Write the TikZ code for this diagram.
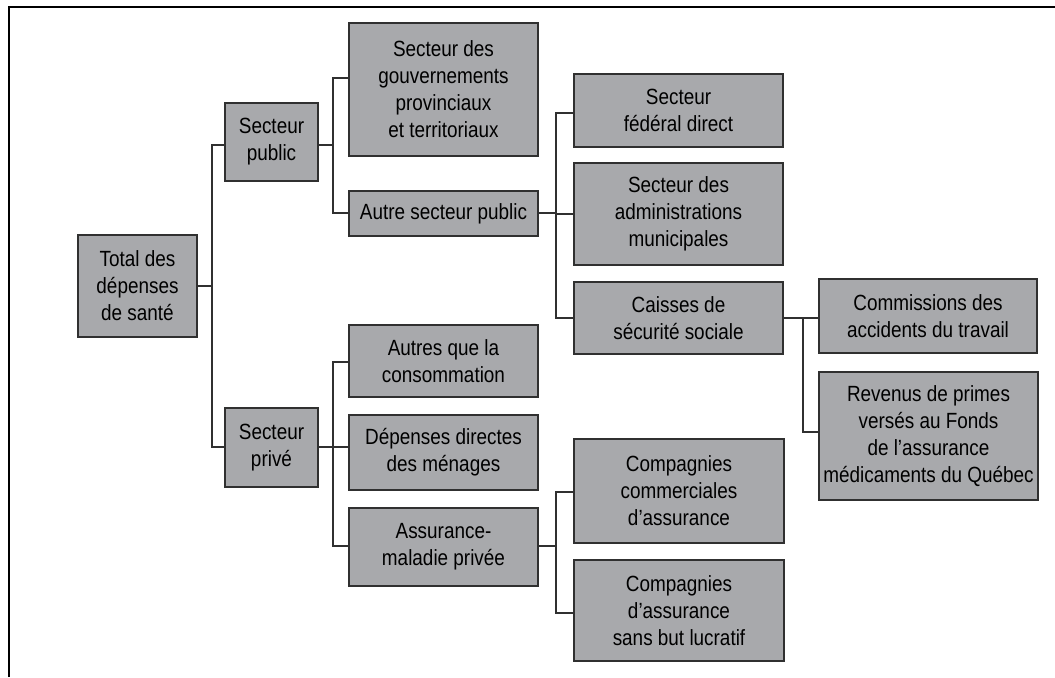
\documentclass[tikz,border=0pt]{standalone}
\usepackage{fontspec}
\setmainfont{Liberation Sans}[FakeStretch=0.86]
\definecolor{boxgray}{HTML}{A8A9AC}
\definecolor{edgegray}{HTML}{303030}
\begin{document}
\begin{tikzpicture}[x=0.5pt,y=-0.5pt,
  box/.style={draw=edgegray, fill=boxgray, line width=0.8pt, align=center, inner sep=0pt,
    font=\fontsize{11}{13.5}\selectfont},
  conn/.style={draw=edgegray, line width=0.8pt}]
\useasboundingbox (0,0) rectangle (1055,677);
\draw[line width=1pt] (9,677) -- (9,7) -- (1055,7);

% level 0
\node[box, minimum width=59.5pt, minimum height=51pt] (total) at (137.5,286) {Total des\\dépenses\\de santé};
% level 1
\node[box, minimum width=46.5pt, minimum height=39pt] (pub) at (271.5,142) {Secteur\\public};
\node[box, minimum width=46.5pt, minimum height=39.5pt] (priv) at (271.5,447.5) {Secteur\\privé};
% level 2
\node[box, minimum width=94.5pt, minimum height=66.5pt] (gouv) at (443.5,89.5) {Secteur des\\gouvernements\\provinciaux\\et territoriaux};
\node[box, minimum width=94.5pt, minimum height=22.5pt] (autre) at (443.5,213.5) {Autre secteur public};
\node[box, minimum width=94.5pt, minimum height=36pt] (autq) at (443.5,361) {Autres que la\\consommation};
\node[box, minimum width=94.5pt, minimum height=37.5pt] (depd) at (443.5,452.5) {Dépenses directes\\des ménages};
\node[box, minimum width=94.5pt, minimum height=39pt] (assu) at (443.5,547) {Assurance-\\maladie privée};
% level 3
\node[box, minimum width=104.5pt, minimum height=36.5pt] (fed) at (678.5,110.5) {Secteur\\fédéral direct};
\node[box, minimum width=104.5pt, minimum height=51pt] (mun) at (678.5,214) {Secteur des\\administrations\\municipales};
\node[box, minimum width=104.5pt, minimum height=36pt] (cais) at (678.5,318) {Caisses de\\sécurité sociale};
\node[box, minimum width=105pt, minimum height=52pt] (ccom) at (679,491) {Compagnies\\commerciales\\d’assurance};
\node[box, minimum width=105pt, minimum height=50.5pt] (csbl) at (679,610.5) {Compagnies\\d’assurance\\sans but lucratif};
% level 4
\node[box, minimum width=109pt, minimum height=37pt] (comm) at (928,316) {Commissions des\\accidents du travail};
\node[box, minimum width=109.5pt, minimum height=64pt] (rev) at (928.5,436) {Revenus de primes\\versés au Fonds\\de l’assurance\\médicaments du Québec};

% connectors
\coordinate (a1) at (212,145);
\coordinate (a2) at (212,447);
\draw[conn] (total.east) -- (total.east -| a1);
\draw[conn] (pub.west |- a1) -- (a1) -- (a2) -- (priv.west |- a2);

\coordinate (b0) at (333,145);
\coordinate (b1) at (333,78);
\coordinate (b2) at (333,213);
\draw[conn] (pub.east |- b0) -- (b0);
\draw[conn] (gouv.west |- b1) -- (b1) -- (b2) -- (autre.west |- b2);

\coordinate (c1) at (333,362);
\coordinate (c2) at (333,447);
\coordinate (c3) at (333,546);
\draw[conn] (priv.east |- c2) -- (depd.west |- c2);
\draw[conn] (autq.west |- c1) -- (c1) -- (c3) -- (assu.west |- c3);

\coordinate (d0) at (556,213);
\coordinate (d1) at (556,113);
\coordinate (d2) at (556,214);
\coordinate (d3) at (556,318);
\draw[conn] (autre.east |- d0) -- (d0);
\draw[conn] (fed.west |- d1) -- (d1) -- (d3) -- (cais.west |- d3);
\draw[conn] (d2) -- (mun.west |- d2);

\coordinate (e1) at (803,318);
\coordinate (e2) at (803,432);
\draw[conn] (cais.east |- e1) -- (comm.west |- e1);
\draw[conn] (e1) -- (e2) -- (rev.west |- e2);

\coordinate (f0) at (556,546);
\coordinate (f1) at (556,492);
\coordinate (f2) at (556,613);
\draw[conn] (assu.east |- f0) -- (f0);
\draw[conn] (ccom.west |- f1) -- (f1) -- (f2) -- (csbl.west |- f2);
\end{tikzpicture}
\end{document}
